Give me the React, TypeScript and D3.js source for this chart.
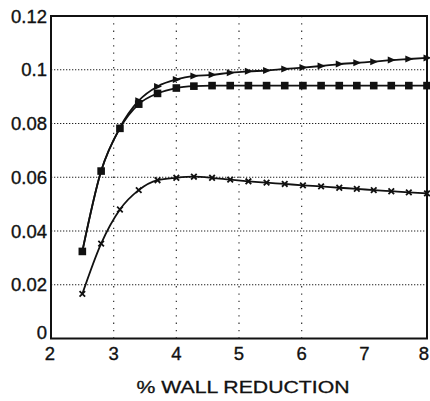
import React from "react";
import * as d3 from "d3";

const xValues = [2.5, 2.8, 3.1, 3.4, 3.7, 4.0, 4.28, 4.57, 4.86, 5.15, 5.44, 5.73, 6.02, 6.31, 6.6, 6.88, 7.15, 7.43, 7.71, 8.0];
const squareSeries = [0.0324, 0.0623, 0.0782, 0.0872, 0.0912, 0.0932, 0.0939, 0.0941, 0.0941, 0.0941, 0.0941, 0.0941, 0.0941, 0.0941, 0.0941, 0.0941, 0.0941, 0.0941, 0.0941, 0.0941];
const triangleSeries = [0.0324, 0.0623, 0.0785, 0.0885, 0.0938, 0.0964, 0.0977, 0.0981, 0.0989, 0.0994, 0.0997, 0.1003, 0.1008, 0.1014, 0.1021, 0.1026, 0.1030, 0.1036, 0.1040, 0.1044];
const starSeries = [0.0166, 0.0353, 0.0480, 0.0552, 0.0589, 0.0598, 0.0602, 0.0598, 0.0591, 0.0585, 0.0580, 0.0575, 0.0570, 0.0566, 0.0561, 0.0557, 0.0552, 0.0548, 0.0544, 0.0540];
const xTicks = [2, 3, 4, 5, 6, 7, 8];
const yTicks = [0, 0.02, 0.04, 0.06, 0.08, 0.1, 0.12];
const yTickLabels = ["0", "0.02", "0.04", "0.06", "0.08", "0.1", "0.12"];
const hGrid = [0.02, 0.04, 0.06, 0.08, 0.1];
const vGrid = [3, 4, 5, 6];
const xTitle = "% WALL REDUCTION";

const W = 430;
const H = 401;
const x = d3.scaleLinear().domain([2, 8]).range([51, 427]);
const y = d3.scaleLinear().domain([0, 0.12]).range([338.5, 16]);

const FONT = "'Liberation Sans', Arial, Helvetica, sans-serif";

export default function App() {
  const line = d3
    .line<[number, number]>()
    .x((d) => x(d[0]))
    .y((d) => y(d[1]))
    .curve(d3.curveMonotoneX);

  const sq = xValues.map((v, i) => [v, squareSeries[i]] as [number, number]);
  const tr = xValues.map((v, i) => [v, triangleSeries[i]] as [number, number]);
  const st = xValues.map((v, i) => [v, starSeries[i]] as [number, number]);

  const starPath = d3.symbol(d3.symbolTimes, 22)();

  return (
    <svg
      width={W}
      height={H}
      style={{ position: "absolute", left: 0, top: 0, background: "#fff" }}
      fontFamily={FONT}
    >
      <rect x={0} y={0} width={W} height={H} fill="#fff" />
      {hGrid.map((g) => (
        <line
          key={"h" + g}
          x1={x(2)}
          x2={x(8)}
          y1={y(g)}
          y2={y(g)}
          stroke="#222"
          strokeWidth={1.2}
          strokeDasharray="1.3,1.7"
        />
      ))}
      {vGrid.map((g) => (
        <line
          key={"v" + g}
          x1={x(g)}
          x2={x(g)}
          y1={y(0.12)}
          y2={y(0)}
          stroke="#333"
          strokeWidth={1.2}
          strokeDasharray="1.3,6"
        />
      ))}
      <rect
        x={x(2)}
        y={y(0.12)}
        width={x(8) - x(2)}
        height={y(0) - y(0.12)}
        fill="none"
        stroke="#111"
        strokeWidth={2}
      />
      <path d={line(st) || ""} fill="none" stroke="#111" strokeWidth={1.8} />
      <path d={line(sq) || ""} fill="none" stroke="#111" strokeWidth={1.8} />
      <path d={line(tr) || ""} fill="none" stroke="#111" strokeWidth={1.8} />
      {sq.map((d, i) => (
        <rect
          key={"s" + i}
          x={x(d[0]) - 3.8}
          y={y(d[1]) - 3.8}
          width={7.6}
          height={7.6}
          fill="#111"
        />
      ))}
      {tr.map((d, i) =>
        i < 3 ? null : (
          <path
            key={"t" + i}
            transform={`translate(${x(d[0])},${y(d[1])})`}
            d="M-3.5,-3.5 L4.5,0 L-3.5,3.5 Z"
            fill="#111"
          />
        )
      )}
      {st.map((d, i) => (
        <path
          key={"x" + i}
          transform={`translate(${x(d[0])},${y(d[1])})`}
          d={starPath || ""}
          fill="none"
          stroke="#111"
          strokeWidth={1.8}
        />
      ))}
      {yTicks.map((t, i) => (
        <text
          key={"yl" + t}
          x={47}
          y={y(t) + (t === 0 ? -6 : 0)}
          textAnchor="end"
          dominantBaseline="central"
          fontSize={18.5}
          fill="#111"
          stroke="#111"
          strokeWidth={0.35}
        >
          {yTickLabels[i]}
        </text>
      ))}
      {xTicks.map((t) => (
        <text
          key={"xl" + t}
          x={x(t) - (t === 2 ? 1 : t === 8 ? 3 : 0)}
          y={353}
          textAnchor="middle"
          dominantBaseline="central"
          fontSize={18.5}
          fill="#111"
          stroke="#111"
          strokeWidth={0.35}
        >
          {t}
        </text>
      ))}
      <text
        x={243}
        y={387}
        textAnchor="middle"
        dominantBaseline="central"
        fontSize={17}
        fill="#111"
        stroke="#111"
        strokeWidth={0.3}
        textLength={213}
        lengthAdjust="spacingAndGlyphs"
      >
        {xTitle}
      </text>
    </svg>
  );
}
